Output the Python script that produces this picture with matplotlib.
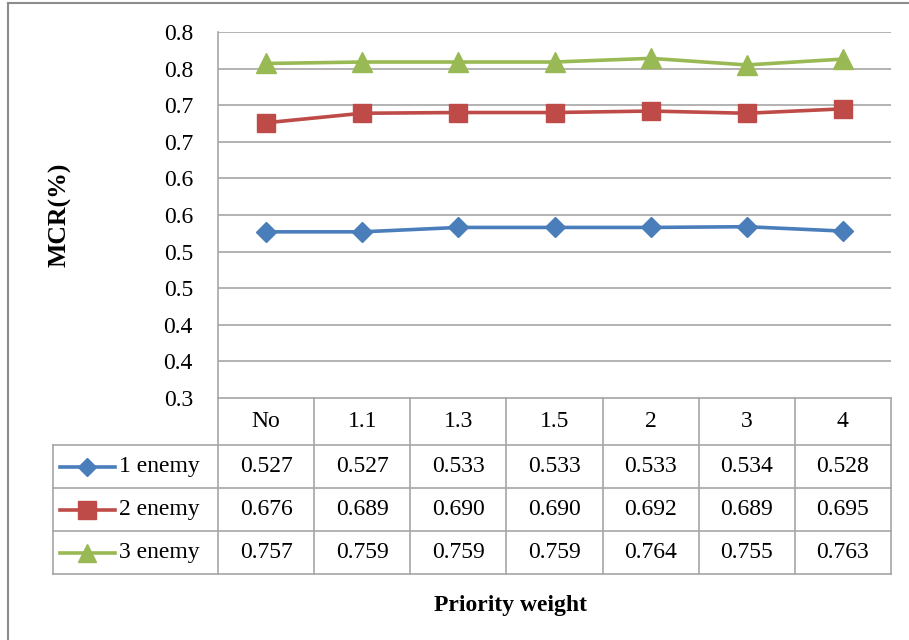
import matplotlib.pyplot as plt
from matplotlib.lines import Line2D

plt.rcParams['font.family'] = ['Liberation Serif', 'DejaVu Serif']

# data
weights = ['No', '1.1', '1.3', '1.5', '2', '3', '4']
enemy1 = [0.527, 0.527, 0.533, 0.533, 0.533, 0.534, 0.528]
enemy2 = [0.676, 0.689, 0.690, 0.690, 0.692, 0.689, 0.695]
enemy3 = [0.757, 0.759, 0.759, 0.759, 0.764, 0.755, 0.763]
series_names = ['1 enemy', '2 enemy', '3 enemy']
y_ticks = [0.30, 0.35, 0.40, 0.45, 0.50, 0.55, 0.60, 0.65, 0.70, 0.75, 0.80]
y_tick_labels = ['0.3', '0.4', '0.4', '0.5', '0.5', '0.6', '0.6', '0.7', '0.7', '0.8', '0.8']

colors = ['#4A7EBB', '#BE4B48', '#98B954']
markers = ['D', 's', '^']
msizes = [10, 13, 14]
grid_c = '#A6A6A6'
fs = 17
W, H = 909, 640


def fx(x):
    return x / W


def fy(y):
    return 1 - y / H


fig = plt.figure(figsize=(W / 100, H / 100), dpi=100)

# outer chart frame (top and left visible)
fig.add_artist(Line2D([fx(8), fx(8)], [fy(3), 0], color='#8C8C8C', lw=1.5))
fig.add_artist(Line2D([fx(8), 1], [fy(3), fy(3)], color='#8C8C8C', lw=1.5))

L, R, T, B = 218, 891, 32, 398
ax = fig.add_axes([fx(L), fy(B), fx(R - L), (B - T) / H])
xs = list(range(len(weights)))
all_series = [enemy1, enemy2, enemy3]
for vals, c, m, ms in zip(all_series, colors, markers, msizes):
    ax.plot(xs, vals, color=c, lw=2.6, marker=m, markersize=ms, zorder=3)

ax.set_xlim(-0.5, len(weights) - 0.5)
ax.set_ylim(0.3, 0.8)
ax.set_yticks(y_ticks)
ax.set_yticklabels(y_tick_labels, fontsize=fs)
ax.set_xticks([])
ax.tick_params(axis='y', length=0, pad=18)
for yv in y_ticks[1:]:
    ax.axhline(yv, color=grid_c, lw=1.2, zorder=1)
for s in ['top', 'right']:
    ax.spines[s].set_visible(False)
ax.spines['left'].set_color(grid_c)
ax.spines['bottom'].set_color(grid_c)
ax.spines['left'].set_linewidth(1.2)
ax.spines['bottom'].set_linewidth(1.2)
ax.set_ylabel('MCR(%)', fontsize=18.5, fontweight='bold')
ax.yaxis.set_label_coords((72 - L) / (R - L), 0.5)

# data table below the plot
TB = 574
tab = fig.add_axes([fx(L), fy(TB), fx(R - L), (TB - B) / H])
tab.set_xlim(-0.5, len(weights) - 0.5)
tab.set_ylim(TB - B, 0)
tab.axis('off')
colw = (R - L) / len(weights)
xleft = -0.5 - (L - 53) / colw
rows = [0, 47, 90, 133, 176]
for r in rows[1:]:
    tab.plot([xleft, len(weights) - 0.5], [r, r], color=grid_c, lw=1.2, clip_on=False)
for k in range(len(weights) + 1):
    tab.plot([k - 0.5, k - 0.5], [0, rows[-1]], color=grid_c, lw=1.2, clip_on=False)
tab.plot([xleft, xleft], [rows[1], rows[-1]], color=grid_c, lw=1.2, clip_on=False)

for i, w in enumerate(weights):
    tab.text(i, (rows[0] + rows[1]) / 2, w, ha='center', va='center', fontsize=fs)

lmsizes = [9, 13, 13]
for j, (name, vals) in enumerate(zip(series_names, all_series)):
    yc = (rows[j + 1] + rows[j + 2]) / 2
    x0 = -0.5 - (L - 60) / colw
    x1 = -0.5 - (L - 115) / colw
    tab.plot([x0, x1], [yc, yc], color=colors[j], lw=2.6, clip_on=False)
    tab.plot([(x0 + x1) / 2], [yc], color=colors[j], marker=markers[j],
             markersize=lmsizes[j], clip_on=False)
    tab.text(-0.5 - (L - 119) / colw, yc, name, ha='left', va='center', fontsize=fs)
    for i, v in enumerate(vals):
        tab.text(i, yc, f'{v:.3f}', ha='center', va='center', fontsize=fs)

fig.text(fx(510), fy(605), 'Priority weight', ha='center', va='center',
         fontsize=fs, fontweight='bold')

fig.savefig('out.png', dpi=100)
